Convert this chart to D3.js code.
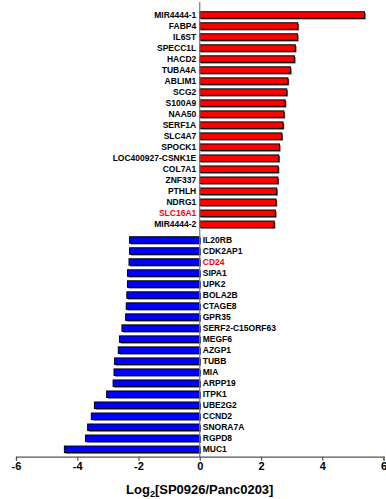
<!DOCTYPE html>
<html lang="en">
<head>
  <meta charset="UTF-8">
  <title>Log2 fold change</title>
  <script src="https://cdn.jsdelivr.net/npm/d3@7"></script>
  <style>
    body { margin: 0; background: #fff; }
    svg { font-family: "Liberation Sans", Arial, sans-serif; font-weight: bold; }
    .gene { font-size: 8.5px; }
    .axis text { font-size: 11px; font-weight: bold; fill: #000; }
    .axis path, .axis line { stroke: #555; stroke-width: 1.2; }
  </style>
</head>
<body>
  <div id="chart"></div>
  <script>
    // Up-regulated genes (red)
    const upGenes = ["MIR4444-1", "FABP4", "IL6ST", "SPECC1L", "HACD2", "TUBA4A", "ABLIM1", "SCG2",
      "S100A9", "NAA50", "SERF1A", "SLC4A7", "SPOCK1", "LOC400927-CSNK1E", "COL7A1", "ZNF337",
      "PTHLH", "NDRG1", "SLC16A1", "MIR4444-2"];
    const upValues = [5.38, 3.20, 3.19, 3.12, 3.09, 2.96, 2.88, 2.84, 2.79, 2.75, 2.72, 2.68,
      2.60, 2.58, 2.56, 2.55, 2.51, 2.49, 2.47, 2.43];

    // Down-regulated genes (blue)
    const downGenes = ["IL20RB", "CDK2AP1", "CD24", "SIPA1", "UPK2", "BOLA2B", "CTAGE8", "GPR35",
      "SERF2-C15ORF63", "MEGF6", "AZGP1", "TUBB", "MIA", "ARPP19", "ITPK1", "UBE2G2", "CCND2",
      "SNORA7A", "RGPD8", "MUC1"];
    const downValues = [-2.29, -2.29, -2.31, -2.36, -2.36, -2.38, -2.40, -2.42, -2.54, -2.62,
      -2.66, -2.78, -2.80, -2.83, -3.04, -3.44, -3.54, -3.66, -3.73, -4.42];

    const highlighted = ["SLC16A1", "CD24"];
    const xTicks = [-6, -4, -2, 0, 2, 4, 6];

    const width = 386, height = 499;
    const svg = d3.select("#chart").append("svg")
      .attr("width", width)
      .attr("height", height);

    const x = d3.scaleLinear().domain([-6, 6]).range([16, 383.5]);

    // slots: up genes 0..19, down genes follow after a small gap
    const gap = 1.425;
    const rows = upGenes.map((g, i) => ({ gene: g, value: upValues[i], slot: i, up: true }))
      .concat(downGenes.map((g, i) => ({ gene: g, value: downValues[i], slot: 19 + gap + i, up: false })));
    const y = d3.scaleLinear().domain([0, 19 + gap + 19]).range([15, 449.3]);
    const barH = 6.5;

    // shadows
    svg.append("g").selectAll("rect")
      .data(rows)
      .enter().append("rect")
      .attr("x", d => Math.min(x(0), x(d.value)) + 1.2)
      .attr("y", d => y(d.slot) - barH / 2 + 1.2)
      .attr("width", d => Math.abs(x(d.value) - x(0)))
      .attr("height", barH)
      .attr("fill", "#555");

    svg.append("g").selectAll("rect")
      .data(rows)
      .enter().append("rect")
      .attr("x", d => Math.min(x(0), x(d.value)))
      .attr("y", d => y(d.slot) - barH / 2)
      .attr("width", d => Math.abs(x(d.value) - x(0)))
      .attr("height", barH)
      .attr("fill", d => d.up ? "#ff0000" : "#0000ff")
      .attr("stroke", "#000")
      .attr("stroke-width", 1);

    // vertical zero line
    svg.append("line")
      .attr("x1", x(0)).attr("x2", x(0))
      .attr("y1", 2).attr("y2", 457)
      .attr("stroke", "#777")
      .attr("stroke-width", 1.2);

    // gene labels
    svg.append("g").selectAll("text")
      .data(rows)
      .enter().append("text")
      .attr("class", "gene")
      .attr("x", d => d.up ? x(0) - 3.5 : x(0) + 3)
      .attr("y", d => y(d.slot))
      .attr("dy", "0.35em")
      .attr("text-anchor", d => d.up ? "end" : "start")
      .attr("fill", d => highlighted.includes(d.gene) ? "#ff0000" : "#000")
      .text(d => d.gene);

    // x axis
    svg.append("g")
      .attr("class", "axis")
      .attr("transform", "translate(0,456.7)")
      .call(d3.axisBottom(x).tickValues(xTicks).tickSize(4).tickSizeOuter(4)
        .tickFormat(d => String(d)).tickPadding(2));

    const title = svg.append("text")
      .attr("x", x(0))
      .attr("y", 494)
      .attr("text-anchor", "middle")
      .style("font-size", "13px");
    title.append("tspan").text("Log");
    title.append("tspan").attr("dy", 3).style("font-size", "9px").text("2");
    title.append("tspan").attr("dy", -3).text("[SP0926/Panc0203]");
  </script>
</body>
</html>
